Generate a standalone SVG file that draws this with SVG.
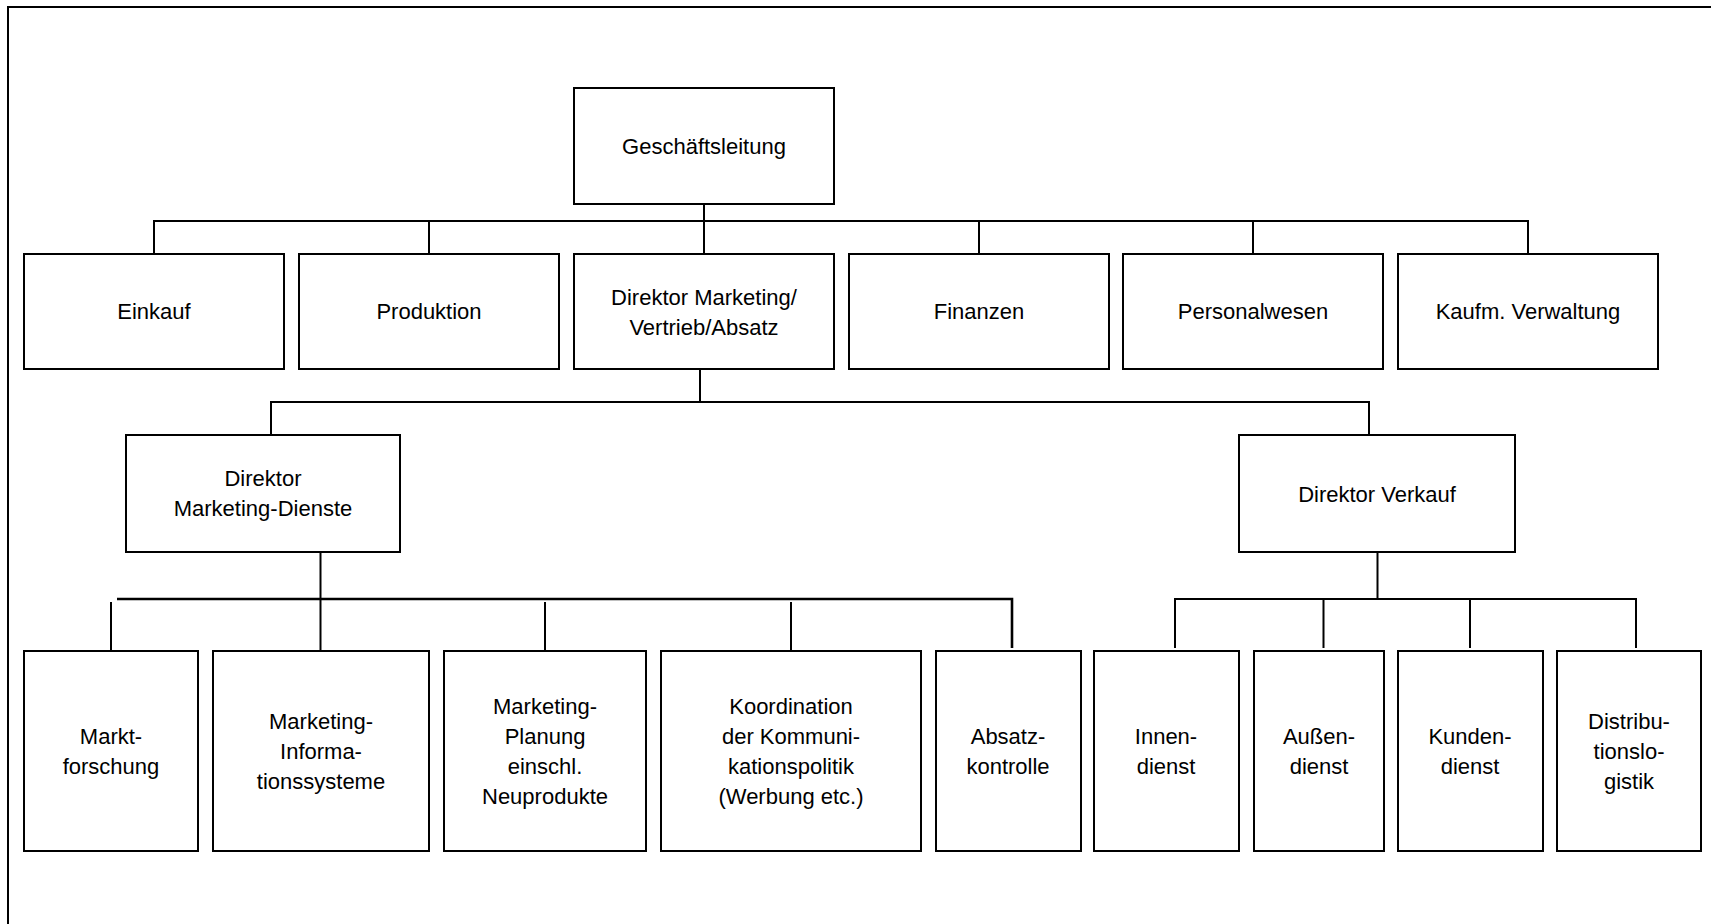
<svg xmlns="http://www.w3.org/2000/svg" width="1711" height="924" viewBox="0 0 1711 924">
<style>
.box{fill:#fff;stroke:#000;stroke-width:2}
.ln{fill:none;stroke:#000;stroke-width:2}
.t{font-family:"Liberation Sans",Arial,sans-serif;font-size:22px;fill:#000;text-anchor:middle}
</style>
<rect x="0" y="0" width="1711" height="924" fill="#fff"/>
<rect x="8" y="7" width="1740" height="960" fill="none" stroke="#000" stroke-width="2"/>
<g id="connectors">
<path class="ln" d="M704 204V254"/>
<path class="ln" d="M154 254V221H1528V254"/>
<path class="ln" d="M429 221V254M979 221V254M1253 221V254"/>
<path class="ln" d="M700 369V402"/>
<path class="ln" d="M271 435V402H1369V435"/>
<path class="ln" d="M320.5 552V651"/>
<path class="ln" d="M117 599H1012V648" style="stroke-width:2.6"/>
<path class="ln" d="M111 602V651M545 602V651M791 602V651"/>
<path class="ln" d="M1377.5 552V599"/>
<path class="ln" d="M1175 648V599H1636V648"/>
<path class="ln" d="M1323.5 599V648M1470 599V648"/>
</g>
<g id="geschaeftsleitung"><rect class="box" x="574" y="88" width="260" height="116"/><text class="t" x="704" y="154">Geschäftsleitung</text></g>
<g id="einkauf"><rect class="box" x="24" y="254" width="260" height="115"/><text class="t" x="154" y="319">Einkauf</text></g>
<g id="produktion"><rect class="box" x="299" y="254" width="260" height="115"/><text class="t" x="429" y="319">Produktion</text></g>
<g id="direktor-marketing"><rect class="box" x="574" y="254" width="260" height="115"/><text class="t" x="704" y="305">Direktor Marketing/</text><text class="t" x="704" y="335">Vertrieb/Absatz</text></g>
<g id="finanzen"><rect class="box" x="849" y="254" width="260" height="115"/><text class="t" x="979" y="319">Finanzen</text></g>
<g id="personalwesen"><rect class="box" x="1123" y="254" width="260" height="115"/><text class="t" x="1253" y="319">Personalwesen</text></g>
<g id="kaufm-verwaltung"><rect class="box" x="1398" y="254" width="260" height="115"/><text class="t" x="1528" y="319">Kaufm. Verwaltung</text></g>
<g id="direktor-marketing-dienste"><rect class="box" x="126" y="435" width="274" height="117"/><text class="t" x="263" y="486">Direktor</text><text class="t" x="263" y="516">Marketing-Dienste</text></g>
<g id="direktor-verkauf"><rect class="box" x="1239" y="435" width="276" height="117"/><text class="t" x="1377" y="502">Direktor Verkauf</text></g>
<g id="marktforschung"><rect class="box" x="24" y="651" width="174" height="200"/><text class="t" x="111" y="744">Markt-</text><text class="t" x="111" y="774">forschung</text></g>
<g id="marketing-informationssysteme"><rect class="box" x="213" y="651" width="216" height="200"/><text class="t" x="321" y="729">Marketing-</text><text class="t" x="321" y="759">Informa-</text><text class="t" x="321" y="789">tionssysteme</text></g>
<g id="marketing-planung"><rect class="box" x="444" y="651" width="202" height="200"/><text class="t" x="545" y="714">Marketing-</text><text class="t" x="545" y="744">Planung</text><text class="t" x="545" y="774">einschl.</text><text class="t" x="545" y="804">Neuprodukte</text></g>
<g id="koordination"><rect class="box" x="661" y="651" width="260" height="200"/><text class="t" x="791" y="714">Koordination</text><text class="t" x="791" y="744">der Kommuni-</text><text class="t" x="791" y="774">kationspolitik</text><text class="t" x="791" y="804">(Werbung etc.)</text></g>
<g id="absatzkontrolle"><rect class="box" x="936" y="651" width="145" height="200"/><text class="t" x="1008" y="744">Absatz-</text><text class="t" x="1008" y="774">kontrolle</text></g>
<g id="innendienst"><rect class="box" x="1094" y="651" width="145" height="200"/><text class="t" x="1166" y="744">Innen-</text><text class="t" x="1166" y="774">dienst</text></g>
<g id="aussendienst"><rect class="box" x="1254" y="651" width="130" height="200"/><text class="t" x="1319" y="744">Außen-</text><text class="t" x="1319" y="774">dienst</text></g>
<g id="kundendienst"><rect class="box" x="1398" y="651" width="145" height="200"/><text class="t" x="1470" y="744">Kunden-</text><text class="t" x="1470" y="774">dienst</text></g>
<g id="distributionslogistik"><rect class="box" x="1557" y="651" width="144" height="200"/><text class="t" x="1629" y="729">Distribu-</text><text class="t" x="1629" y="759">tionslo-</text><text class="t" x="1629" y="789">gistik</text></g>
</svg>
